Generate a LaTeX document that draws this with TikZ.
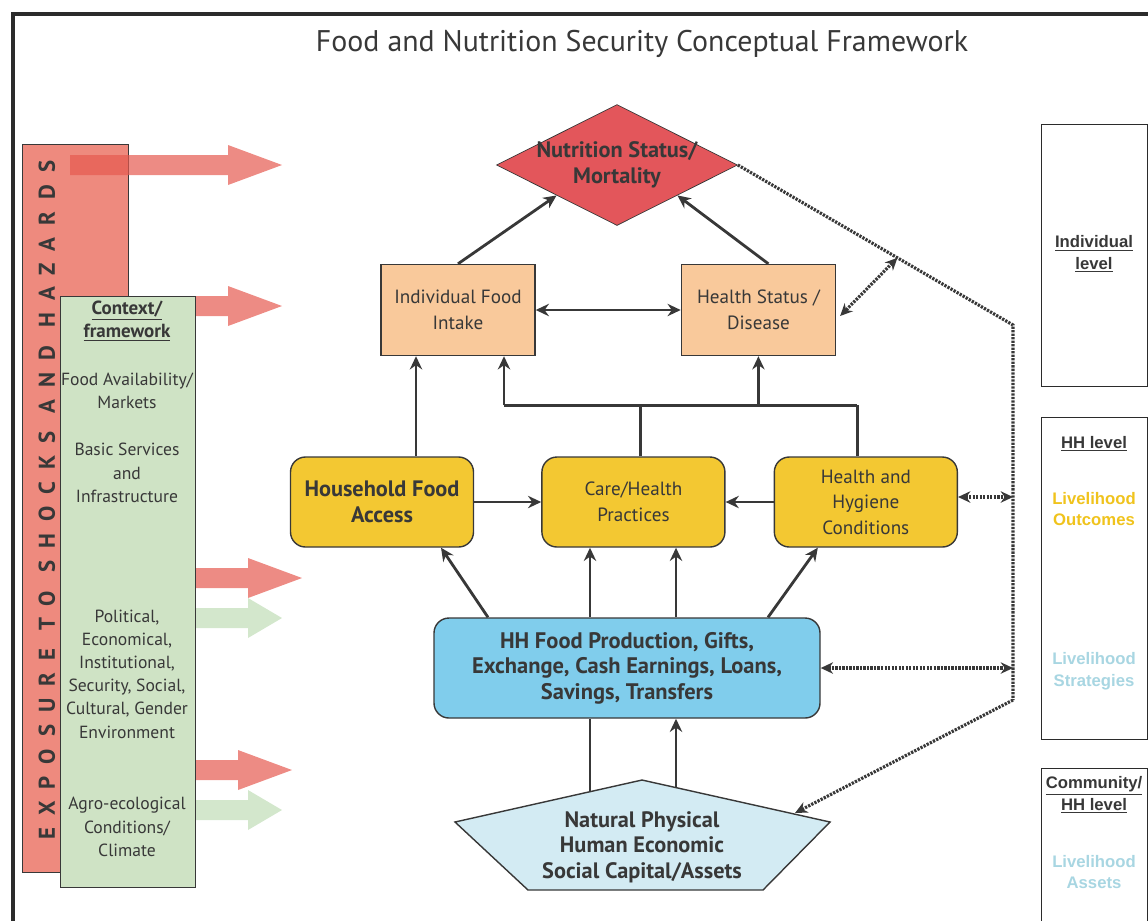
\documentclass[tikz,border=0pt]{standalone}
\usepackage{fontspec}
\setmainfont{PT Sans}
\newfontfamily\arialfont{Liberation Sans}
\usetikzlibrary{shapes.geometric, arrows, arrows.meta, calc, positioning}
\definecolor{framegrey}{HTML}{2B2B2B}
\definecolor{txtgrey}{HTML}{383838}
\definecolor{shockred}{HTML}{EE8A7E}
\definecolor{arrowred}{HTML}{E65A50}
\definecolor{ctxgreen}{HTML}{CFE3C5}
\definecolor{arrowgreen}{HTML}{D3E7CC}
\definecolor{nutrred}{HTML}{E3565B}
\definecolor{intakepeach}{HTML}{F9C99B}
\definecolor{outyellow}{HTML}{F3C832}
\definecolor{stratblue}{HTML}{80CDEC}
\definecolor{assetblue}{HTML}{D3EBF3}
\definecolor{lhyellow}{HTML}{F0C31C}
\definecolor{lhblue}{HTML}{A8D6E2}
\tikzstyle{intake} = [rectangle, thick, draw=txtgrey, fill=intakepeach, minimum width=30.8mm, minimum height=18.2mm, align=center, text=txtgrey, font=\fontsize{10.9}{14.5}\selectfont]
\tikzstyle{outcome} = [rectangle, rounded corners=3mm, thick, draw=txtgrey, fill=outyellow, minimum width=36.6mm, minimum height=18mm, align=center, text=txtgrey, font=\fontsize{10.9}{14.5}\selectfont]
\tikzstyle{strategy} = [rectangle, rounded corners=3mm, thick, draw=txtgrey, fill=stratblue, minimum width=77.2mm, minimum height=20mm, align=center, text=txtgrey, font=\bfseries\fontsize{12.8}{14.5}\selectfont]
\tikzstyle{boldtext} = [align=center, text=txtgrey, font=\bfseries\fontsize{12.7}{14.5}\selectfont]
\tikzstyle{ctxtext} = [align=center, text=txtgrey, inner sep=0pt, font=\fontsize{10}{13.2}\selectfont]
\tikzstyle{levelbox} = [rectangle, semithick, draw=framegrey, fill=white, minimum width=21.2mm, anchor=north west]
\tikzstyle{leveltext} = [align=center, text=txtgrey, inner sep=0pt, font=\arialfont\bfseries\fontsize{9.5}{12.5}\selectfont]
\tikzstyle{arrow} = [line width=1.6pt, draw=txtgrey, ->, >={Stealth[length=7.5pt, width=7pt]}]
\tikzstyle{link} = [line width=1.6pt, draw=txtgrey]
\tikzstyle{dotline} = [line width=1.8pt, dash pattern=on 1.3pt off 0.7pt, draw=txtgrey, >={Stealth[length=7pt, width=6.5pt]}]
\newcommand{\shockarrow}[5]{% fill, shaft start, head base, tip, y
  \fill[#1] (#2,#5-10) -- (#3,#5-10) -- (#3,#5-20) -- (#4,#5) -- (#3,#5+20) -- (#3,#5+10) -- (#2,#5+10) -- cycle;}

\begin{document}
\begin{tikzpicture}[x=0.2mm, y=-0.2mm, node distance=10mm]
	\useasboundingbox (0,0) rectangle (1148,920);
	\clip (0,0) rectangle (1148,920);
	% frame and title
	\draw [line width=2.8pt, framegrey] (13,960) -- (13,14) -- (1170,14);
	\node (title) [text=txtgrey, font=\fontsize{17}{20}\selectfont] at (642,44) {Food and Nutrition Security Conceptual Framework};

	% shocks bar, arrows and context column
	\node (shocks) [rectangle, draw=txtgrey, fill=shockred, minimum width=21.2mm, minimum height=145.6mm, anchor=north west] at (22,144) {};
	\node (exposure) [rotate=90, text=txtgrey, font=\bfseries\fontsize{13}{13}\selectfont\addfontfeature{LetterSpace=53}] at (47,500) {EXPOSURE TO SHOCKS AND HAZARDS};
	\shockarrow{arrowred, fill opacity=0.7}{70}{228}{282}{165}
	\shockarrow{arrowred, fill opacity=0.7}{150}{228}{282}{306}
	\shockarrow{arrowred, fill opacity=0.7}{150}{248}{302}{578}
	\shockarrow{arrowgreen}{150}{248}{282}{618}
	\shockarrow{arrowred, fill opacity=0.7}{150}{238}{292}{770}
	\shockarrow{arrowgreen}{150}{248}{282}{810}
	\node (context) [rectangle, draw=txtgrey, fill=ctxgreen, minimum width=27mm, minimum height=118.2mm, anchor=north west] at (60,296) {};
	\node (ctxhead) [ctxtext, font=\bfseries\fontsize{10.8}{13.2}\selectfont] at (127,321) {\underline{Context/}\\\underline{framework}};
	\node (ctxmarket) [ctxtext] at (127,391) {Food Availability/\\Markets};
	\node (ctxservice) [ctxtext] at (127,473) {Basic Services\\and\\Infrastructure};
	\node (ctxpolicy) [ctxtext] at (127,674) {Political,\\Economical,\\Institutional,\\Security, Social,\\Cultural, Gender\\Environment};
	\node (ctxclimate) [ctxtext] at (127,827) {Agro-ecological\\Conditions/\\Climate};

	% framework nodes
	\node (nutr) [diamond, aspect=2, draw=txtgrey, fill=nutrred, minimum width=48.2mm, minimum height=24.2mm, inner sep=0pt] at (617,165) {};
	\node (nutrlabel) [boldtext] at (617,165) {Nutrition Status/\\Mortality};
	\node (ifi) [intake] at (458,310) {Individual Food\\Intake};
	\node (hs) [intake, right=29mm of ifi] {Health Status /\\Disease};
	\node (hfa) [outcome, font=\bfseries\fontsize{12.7}{14.5}\selectfont] at (382,502) {Household Food\\Access};
	\node (care) [outcome, right=13.4mm of hfa] {Care/Health\\Practices};
	\node (hyg) [outcome, right=9.6mm of care] {Health and\\Hygiene\\Conditions};
	\node (prod) [strategy] at (627,668) {HH Food Production, Gifts,\\Exchange, Cash Earnings, Loans,\\Savings, Transfers};
	\draw [thick, draw=txtgrey, fill=assetblue] (642,780) -- (830,822) -- (763,890) -- (528,890) -- (455,822) -- cycle;
	\node (assets) [boldtext] at (642,847) {Natural Physical\\Human Economic\\Social Capital/Assets};
	\coordinate (assetl) at (590,792);
	\coordinate (assetr) at (676,788);
	\coordinate (assetin) at (795,813);

	% links
	\draw [arrow] (ifi.north) -- (nutr.south west);
	\draw [arrow] ([xshift=2mm]hs.north) -- (nutr.south east);
	\draw [arrow, <->] (ifi) -- (hs);
	\draw [arrow] ([xshift=6.8mm]hfa.north) -- ([xshift=6.8mm]hfa.north |- ifi.south);
	\draw [link] ([xshift=1.4mm]care.north) -- ++(0,-51) coordinate (carejn);
	\draw [link] ([xshift=-1.7mm]hyg.north) -- ++(0,-51) coordinate (hygjn);
	\coordinate (ifijn) at ([xshift=9.2mm]ifi.south |- carejn);
	\draw [link] (hygjn) -- (ifijn);
	\draw [arrow] (ifijn) -- ([xshift=9.2mm]ifi.south);
	\draw [arrow] (hs.south |- carejn) -- (hs.south);
	\draw [arrow] (hfa) -- (care);
	\draw [arrow] (hyg) -- (care);
	\draw [arrow] ([xshift=-27.8mm]prod.north) -- ([xshift=11.8mm]hfa.south);
	\draw [arrow] ([xshift=-7.4mm]prod.north) -- ([xshift=-7.4mm]prod.north |- care.south);
	\draw [arrow] ([xshift=9.8mm]prod.north) -- ([xshift=9.8mm]prod.north |- care.south);
	\draw [arrow] ([xshift=28.2mm]prod.north) -- ([xshift=-9.6mm]hyg.south);
	\draw [link] (assetl) -- (assetl |- prod.south);
	\draw [arrow] (assetr) -- (assetr |- prod.south);

	% dotted feedback
	\draw [dotline] (nutr.east) -- (1013,325) coordinate (bendtop) -- (1013,700) coordinate (bendlow);
	\draw [dotline, ->] (bendlow) -- (assetin);
	\coordinate (tapind) at ($(nutr.east)!0.58!(bendtop)$);
	\draw [dotline, <->] (tapind) -- ($(hs.east)+(4,6)$);
	\draw [dotline, <->] ([yshift=1mm]hyg.east) -- ([yshift=1mm]hyg.east -| bendtop);
	\draw [dotline, <->] (prod.east) -- (prod.east -| bendtop);

	% level boxes
	\node (indlevel) [levelbox, minimum height=52.4mm] at (1041,124) {};
	\node (hhlevel) [levelbox, minimum height=64.4mm] at (1041,417) {};
	\node (commlevel) [levelbox, minimum height=40mm] at (1041,768) {};
	\node (indtag) [leveltext] at (1094,254) {\underline{Individual}\\\underline{level}};
	\node (hhtag) [leveltext] at (1094,444) {\underline{HH level}};
	\node (outtag) [leveltext, text=lhyellow] at (1094,509) {Livelihood\\Outcomes};
	\node (strattag) [leveltext, text=lhblue] at (1094,671) {Livelihood\\Strategies};
	\node (commtag) [leveltext] at (1094,795) {\underline{Community/}\\\underline{HH level}};
	\node (assettag) [leveltext, text=lhblue] at (1094,872) {Livelihood\\Assets};
\end{tikzpicture}
\end{document}
